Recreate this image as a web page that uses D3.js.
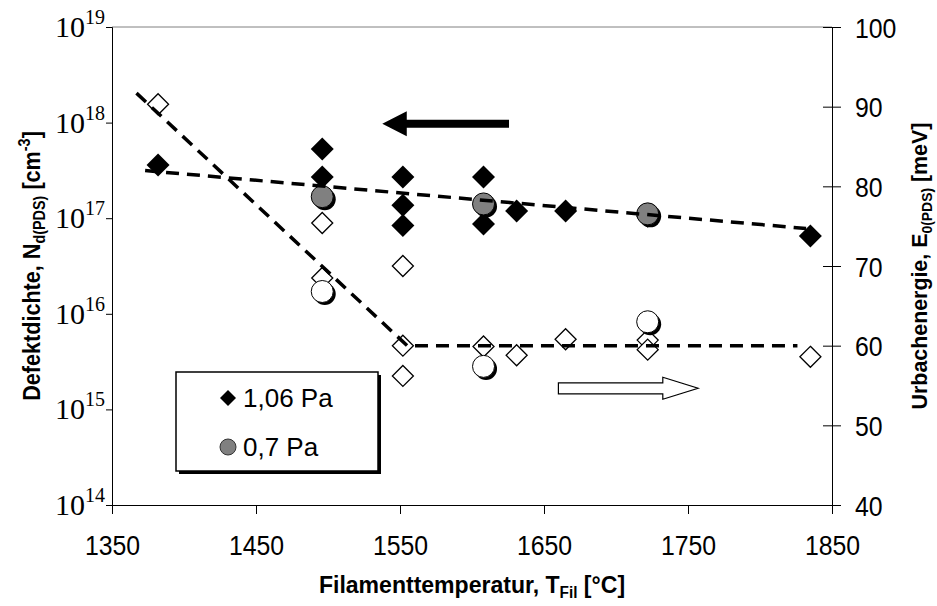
<!DOCTYPE html>
<html><head><meta charset="utf-8">
<script src="https://cdn.jsdelivr.net/npm/d3@7"></script>
<style>body{margin:0;background:#fff} svg{display:block}</style>
</head><body><svg id="c" width="937" height="606"></svg>
<script>
// ---- data ----
const xTicks = [1350, 1450, 1550, 1650, 1750, 1850];
const leftExps = [14, 15, 16, 17, 18, 19];
const rightTicks = [40, 50, 60, 70, 80, 90, 100];

// 1,06 Pa defect density (filled diamonds, left axis)
const nd106T = [1382, 1496, 1496, 1552, 1552, 1552, 1608, 1608, 1631, 1665, 1722, 1835];
const nd106N = [3.6e17, 5.3e17, 2.7e17, 2.7e17, 1.37e17, 8.4e16, 2.7e17, 8.7e16, 1.19e17, 1.19e17, 1.05e17, 6.5e16];
// 0,7 Pa defect density (gray circles, left axis)
const nd07T = [1496, 1608, 1722];
const nd07N = [1.68e17, 1.41e17, 1.11e17];
// 1,06 Pa Urbach energy (open diamonds, right axis)
const e106T = [1382, 1496, 1496, 1552, 1552, 1552, 1608, 1631, 1665, 1722, 1722, 1835];
const e106E = [90.3, 75.4, 68.5, 70.0, 60.0, 56.2, 59.9, 58.8, 60.8, 60.7, 59.5, 58.6];
// 0,7 Pa Urbach energy (open circles, right axis)
const e07T = [1496, 1608, 1722];
const e07E = [66.8, 57.4, 63.0];
// trend lines
const fitNT = [1373, 1832];
const fitNN = [3.15e17, 7.8e16];
const fitET = [1367, 1555, 1826];
const fitEE = [91.7, 60, 60];
// annotation arrows (data units)
const arrowLeftT = [1625.7, 1554.7, 1537.7];   // tail, head back, tip
const arrowLeftN = 9.7e17;
const arrowRightT = [1660, 1732.5, 1757];      // tail, head back, tip
const arrowRightE = 54.65;
const legendLabels = ["1,06 Pa", "0,7 Pa"];

// ---- layout ----
const svg = d3.select("#c");
const L = 112, R = 832, T = 27, B = 505;
const x = d3.scaleLinear([1350, 1850], [L, R]);
const yL = d3.scaleLog([1e14, 1e19], [B, T]);
const yR = d3.scaleLinear([40, 100], [B, T]);
const SANS = "'Liberation Sans', Arial, sans-serif";
const SERIF = "'Liberation Serif', 'Times New Roman', serif";

// plot border top (gray)
svg.append("line").attr("x1", L).attr("x2", R).attr("y1", T).attr("y2", T)
  .attr("stroke", "#808080").attr("stroke-width", 1);

// x axis
const gx = svg.append("g").attr("transform", `translate(0,${B})`)
  .call(d3.axisBottom(x).tickValues(xTicks).tickSize(9).tickFormat(d3.format("d")));
gx.select(".domain").attr("stroke", "#000");
gx.selectAll(".tick line").attr("stroke", "#000");
gx.selectAll(".tick text").attr("font-family", SANS).attr("font-size", 27).attr("fill", "#000")
  .attr("y", 0).attr("dy", 0)
  .attr("transform", "translate(0,50) scale(0.92,1)");

// left axis
const gl = svg.append("g").attr("transform", `translate(${L},0)`)
  .call(d3.axisLeft(yL).tickValues(leftExps.map(e => Math.pow(10, e))).tickSize(6).tickFormat(""));
gl.select(".domain").attr("stroke", "#000");
gl.selectAll(".tick line").attr("stroke", "#000");
leftExps.forEach(e => {
  const t = svg.append("text").attr("x", 105).attr("y", yL(Math.pow(10, e)) + 10)
    .attr("text-anchor", "end").attr("font-family", SERIF).attr("font-size", 30).attr("fill", "#000");
  t.append("tspan").text("10");
  t.append("tspan").attr("font-size", 20).attr("dy", -13).text(String(e));
});

// right axis (crossing ticks)
const gr = svg.append("g").attr("transform", `translate(${R},0)`)
  .call(d3.axisRight(yR).tickValues(rightTicks).tickSizeInner(9).tickSizeOuter(0).tickFormat(d3.format("d")));
gr.select(".domain").attr("stroke", "#000");
gr.selectAll(".tick line").attr("stroke", "#000").attr("x1", -9);
gr.selectAll(".tick text").attr("font-family", SANS).attr("font-size", 27).attr("fill", "#000")
  .attr("x", 0).attr("dy", 0).attr("text-anchor", "start")
  .attr("transform", "translate(23,10) scale(0.92,1)");

// axis titles
const xt = svg.append("text").attr("text-anchor", "middle").attr("font-family", SANS)
  .attr("font-weight", "bold").attr("font-size", 24).attr("fill", "#000")
  .attr("transform", `translate(${(L + R) / 2},593) scale(0.96,1)`);
xt.append("tspan").text("Filamenttemperatur, T");
xt.append("tspan").attr("font-size", 16).attr("dy", 5).text("Fil");
xt.append("tspan").attr("dy", -5).text(" [°C]");

const lt = svg.append("text").attr("text-anchor", "middle").attr("font-family", SANS)
  .attr("font-weight", "bold").attr("font-size", 24).attr("fill", "#000")
  .attr("transform", `translate(40,${(T + B) / 2}) rotate(-90) scale(0.9,1)`);
lt.append("tspan").text("Defektdichte, N");
lt.append("tspan").attr("font-size", 16).attr("dy", 5).text("d(PDS)");
lt.append("tspan").attr("dy", -5).text(" [cm");
lt.append("tspan").attr("font-size", 16).attr("dy", -10).text("-3");
lt.append("tspan").attr("dy", 10).text("]");

const rt = svg.append("text").attr("text-anchor", "middle").attr("font-family", SANS)
  .attr("font-weight", "bold").attr("font-size", 23).attr("fill", "#000")
  .attr("transform", `translate(927,${(T + B) / 2}) rotate(-90) scale(0.93,1)`);
rt.append("tspan").text("Urbachenergie, E");
rt.append("tspan").attr("font-size", 15).attr("dy", 5).text("0(PDS)");
rt.append("tspan").attr("dy", -5).text(" [meV]");

// ---- markers ----
const diamond = (s) => `M0,${-s}L${s},0L0,${s}L${-s},0Z`;

// filled diamonds
svg.append("g").selectAll("path").data(nd106T.map((t, i) => [t, nd106N[i]])).join("path")
  .attr("d", diamond(11.5)).attr("transform", d => `translate(${x(d[0])},${yL(d[1])})`)
  .attr("fill", "#000");
// gray circles with shadow
const gc = svg.append("g").selectAll("g").data(nd07T.map((t, i) => [t, nd07N[i]])).join("g")
  .attr("transform", d => `translate(${x(d[0])},${yL(d[1])})`);
gc.append("circle").attr("cx", 2.5).attr("cy", 2.5).attr("r", 11).attr("fill", "#000");
gc.append("circle").attr("r", 11).attr("fill", "#808080").attr("stroke", "#000").attr("stroke-width", 1);
// open diamonds
svg.append("g").selectAll("path").data(e106T.map((t, i) => [t, e106E[i]])).join("path")
  .attr("d", diamond(10.5)).attr("transform", d => `translate(${x(d[0])},${yR(d[1])})`)
  .attr("fill", "#fff").attr("stroke", "#000").attr("stroke-width", 1.3);
// open circles with shadow
const oc = svg.append("g").selectAll("g").data(e07T.map((t, i) => [t, e07E[i]])).join("g")
  .attr("transform", d => `translate(${x(d[0])},${yR(d[1])})`);
oc.append("circle").attr("cx", 2.5).attr("cy", 2.5).attr("r", 11).attr("fill", "#000");
oc.append("circle").attr("r", 11).attr("fill", "#fff").attr("stroke", "#000").attr("stroke-width", 1);

// ---- trend lines ----
svg.append("path").datum(fitNT.map((t, i) => [t, fitNN[i]]))
  .attr("d", d3.line().x(d => x(d[0])).y(d => yL(d[1])))
  .attr("fill", "none").attr("stroke", "#000").attr("stroke-width", 3.5).attr("stroke-dasharray", "13,8");
svg.append("path").datum(fitET.map((t, i) => [t, fitEE[i]]))
  .attr("d", d3.line().x(d => x(d[0])).y(d => yR(d[1])))
  .attr("fill", "none").attr("stroke", "#000").attr("stroke-width", 3.5).attr("stroke-dasharray", "13,8");

// ---- arrows ----
{
  const yc = yL(arrowLeftN);
  const [xt0, xb, xtip] = arrowLeftT.map(x);
  svg.append("path")
    .attr("d", `M${xt0},${yc - 4}L${xb},${yc - 4}L${xb},${yc - 12.5}L${xtip},${yc}L${xb},${yc + 12.5}L${xb},${yc + 4}L${xt0},${yc + 4}Z`)
    .attr("fill", "#000");
}
{
  const yc = yR(arrowRightE);
  const [xt0, xb, xtip] = arrowRightT.map(x);
  svg.append("path")
    .attr("d", `M${xt0},${yc - 5.5}L${xb},${yc - 5.5}L${xb},${yc - 11}L${xtip},${yc}L${xb},${yc + 11}L${xb},${yc + 5.5}L${xt0},${yc + 5.5}Z`)
    .attr("fill", "#fff").attr("stroke", "#000").attr("stroke-width", 1.2);
}

// ---- legend ----
const lg = svg.append("g");
lg.append("rect").attr("x", 179).attr("y", 375).attr("width", 202).attr("height", 99).attr("fill", "#000");
lg.append("rect").attr("x", 176).attr("y", 372).attr("width", 202).attr("height", 99)
  .attr("fill", "#fff").attr("stroke", "#000").attr("stroke-width", 1.5);
lg.append("path").attr("d", diamond(8)).attr("transform", "translate(228,398)").attr("fill", "#000");
lg.append("circle").attr("cx", 228).attr("cy", 447).attr("r", 8).attr("fill", "#808080")
  .attr("stroke", "#333").attr("stroke-width", 1);
legendLabels.forEach((s, i) => {
  lg.append("text").attr("font-family", SANS).attr("font-size", 26).attr("fill", "#000")
    .attr("transform", `translate(243,${407 + i * 49})`).text(s);
});
</script>
</body></html>
